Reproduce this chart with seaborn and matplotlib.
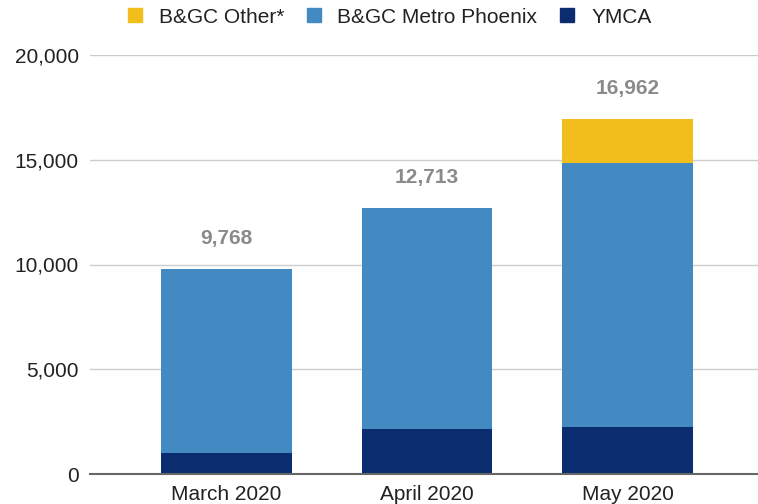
import numpy as np
import pandas as pd
import matplotlib
matplotlib.use("Agg")
import matplotlib.pyplot as plt
import seaborn as sns
from matplotlib.patches import Patch
from matplotlib.ticker import FuncFormatter

months = ["March 2020", "April 2020", "May 2020"]
ymca = [1000, 2150, 2230]
metro = [8768, 10563, 12630]
other = [0, 0, 2102]
totals = [9768, 12713, 16962]

c_other = "#F1BE1B"
c_metro = "#438AC2"
c_ymca = "#0B2D6F"

df = pd.DataFrame({"Mes": months, "YMCA": ymca, "Metro": metro, "Other": other})
df["MetroCum"] = df["YMCA"] + df["Metro"]
df["Total"] = df["MetroCum"] + df["Other"]

sns.set_theme(style="white")
plt.rcParams["font.family"] = ["Liberation Sans", "DejaVu Sans"]

fig = plt.figure(figsize=(7.58, 5.04), dpi=100)
ax = fig.add_axes([90 / 758, 1 - 474 / 504, 1 - 90 / 758, (474 - 55) / 504])

# capas apiladas: total, luego metro acumulado, luego ymca
sns.barplot(data=df, x="Mes", y="Total", color=c_other, width=0.65, ax=ax, saturation=1, zorder=3, linewidth=0)
sns.barplot(data=df, x="Mes", y="MetroCum", color=c_metro, width=0.65, ax=ax, saturation=1, zorder=3, linewidth=0)
sns.barplot(data=df, x="Mes", y="YMCA", color=c_ymca, width=0.65, ax=ax, saturation=1, zorder=3, linewidth=0)

for i, t in enumerate(totals):
    ax.annotate(f"{t:,}", (i, t), xytext=(0, 22), textcoords="offset points",
                ha="center", va="center", fontsize=15, fontweight="bold", color="#8a8a8a")

ax.set_ylim(0, 20000)
ax.set_xlim(-0.68, 2.65)
ax.set_yticks([0, 5000, 10000, 15000, 20000])
ax.yaxis.set_major_formatter(FuncFormatter(lambda v, p: f"{int(v):,}"))
ax.grid(axis="y", color="#cccccc", linewidth=1, zorder=0)
ax.set_axisbelow(True)
for s in ["top", "right", "left"]:
    ax.spines[s].set_visible(False)
ax.spines["bottom"].set_color("#666666")
ax.spines["bottom"].set_linewidth(1.5)
ax.spines["bottom"].set_zorder(4)
ax.tick_params(axis="both", length=0, labelsize=15, colors="#222222", pad=8)
ax.tick_params(axis="x", pad=8)
ax.set_xlabel("")
ax.set_ylabel("")

handles = [Patch(color=c_other, label="B&GC Other*"),
           Patch(color=c_metro, label="B&GC Metro Phoenix"),
           Patch(color=c_ymca, label="YMCA")]
fig.legend(handles=handles, loc="center", bbox_to_anchor=(0.514, 0.966), ncol=3,
           frameon=False, fontsize=15, handlelength=0.67, handleheight=0.67,
           handletextpad=0.8, columnspacing=1.1, labelcolor="#222222")

fig.savefig("out.png", dpi=100)
plt.close()
